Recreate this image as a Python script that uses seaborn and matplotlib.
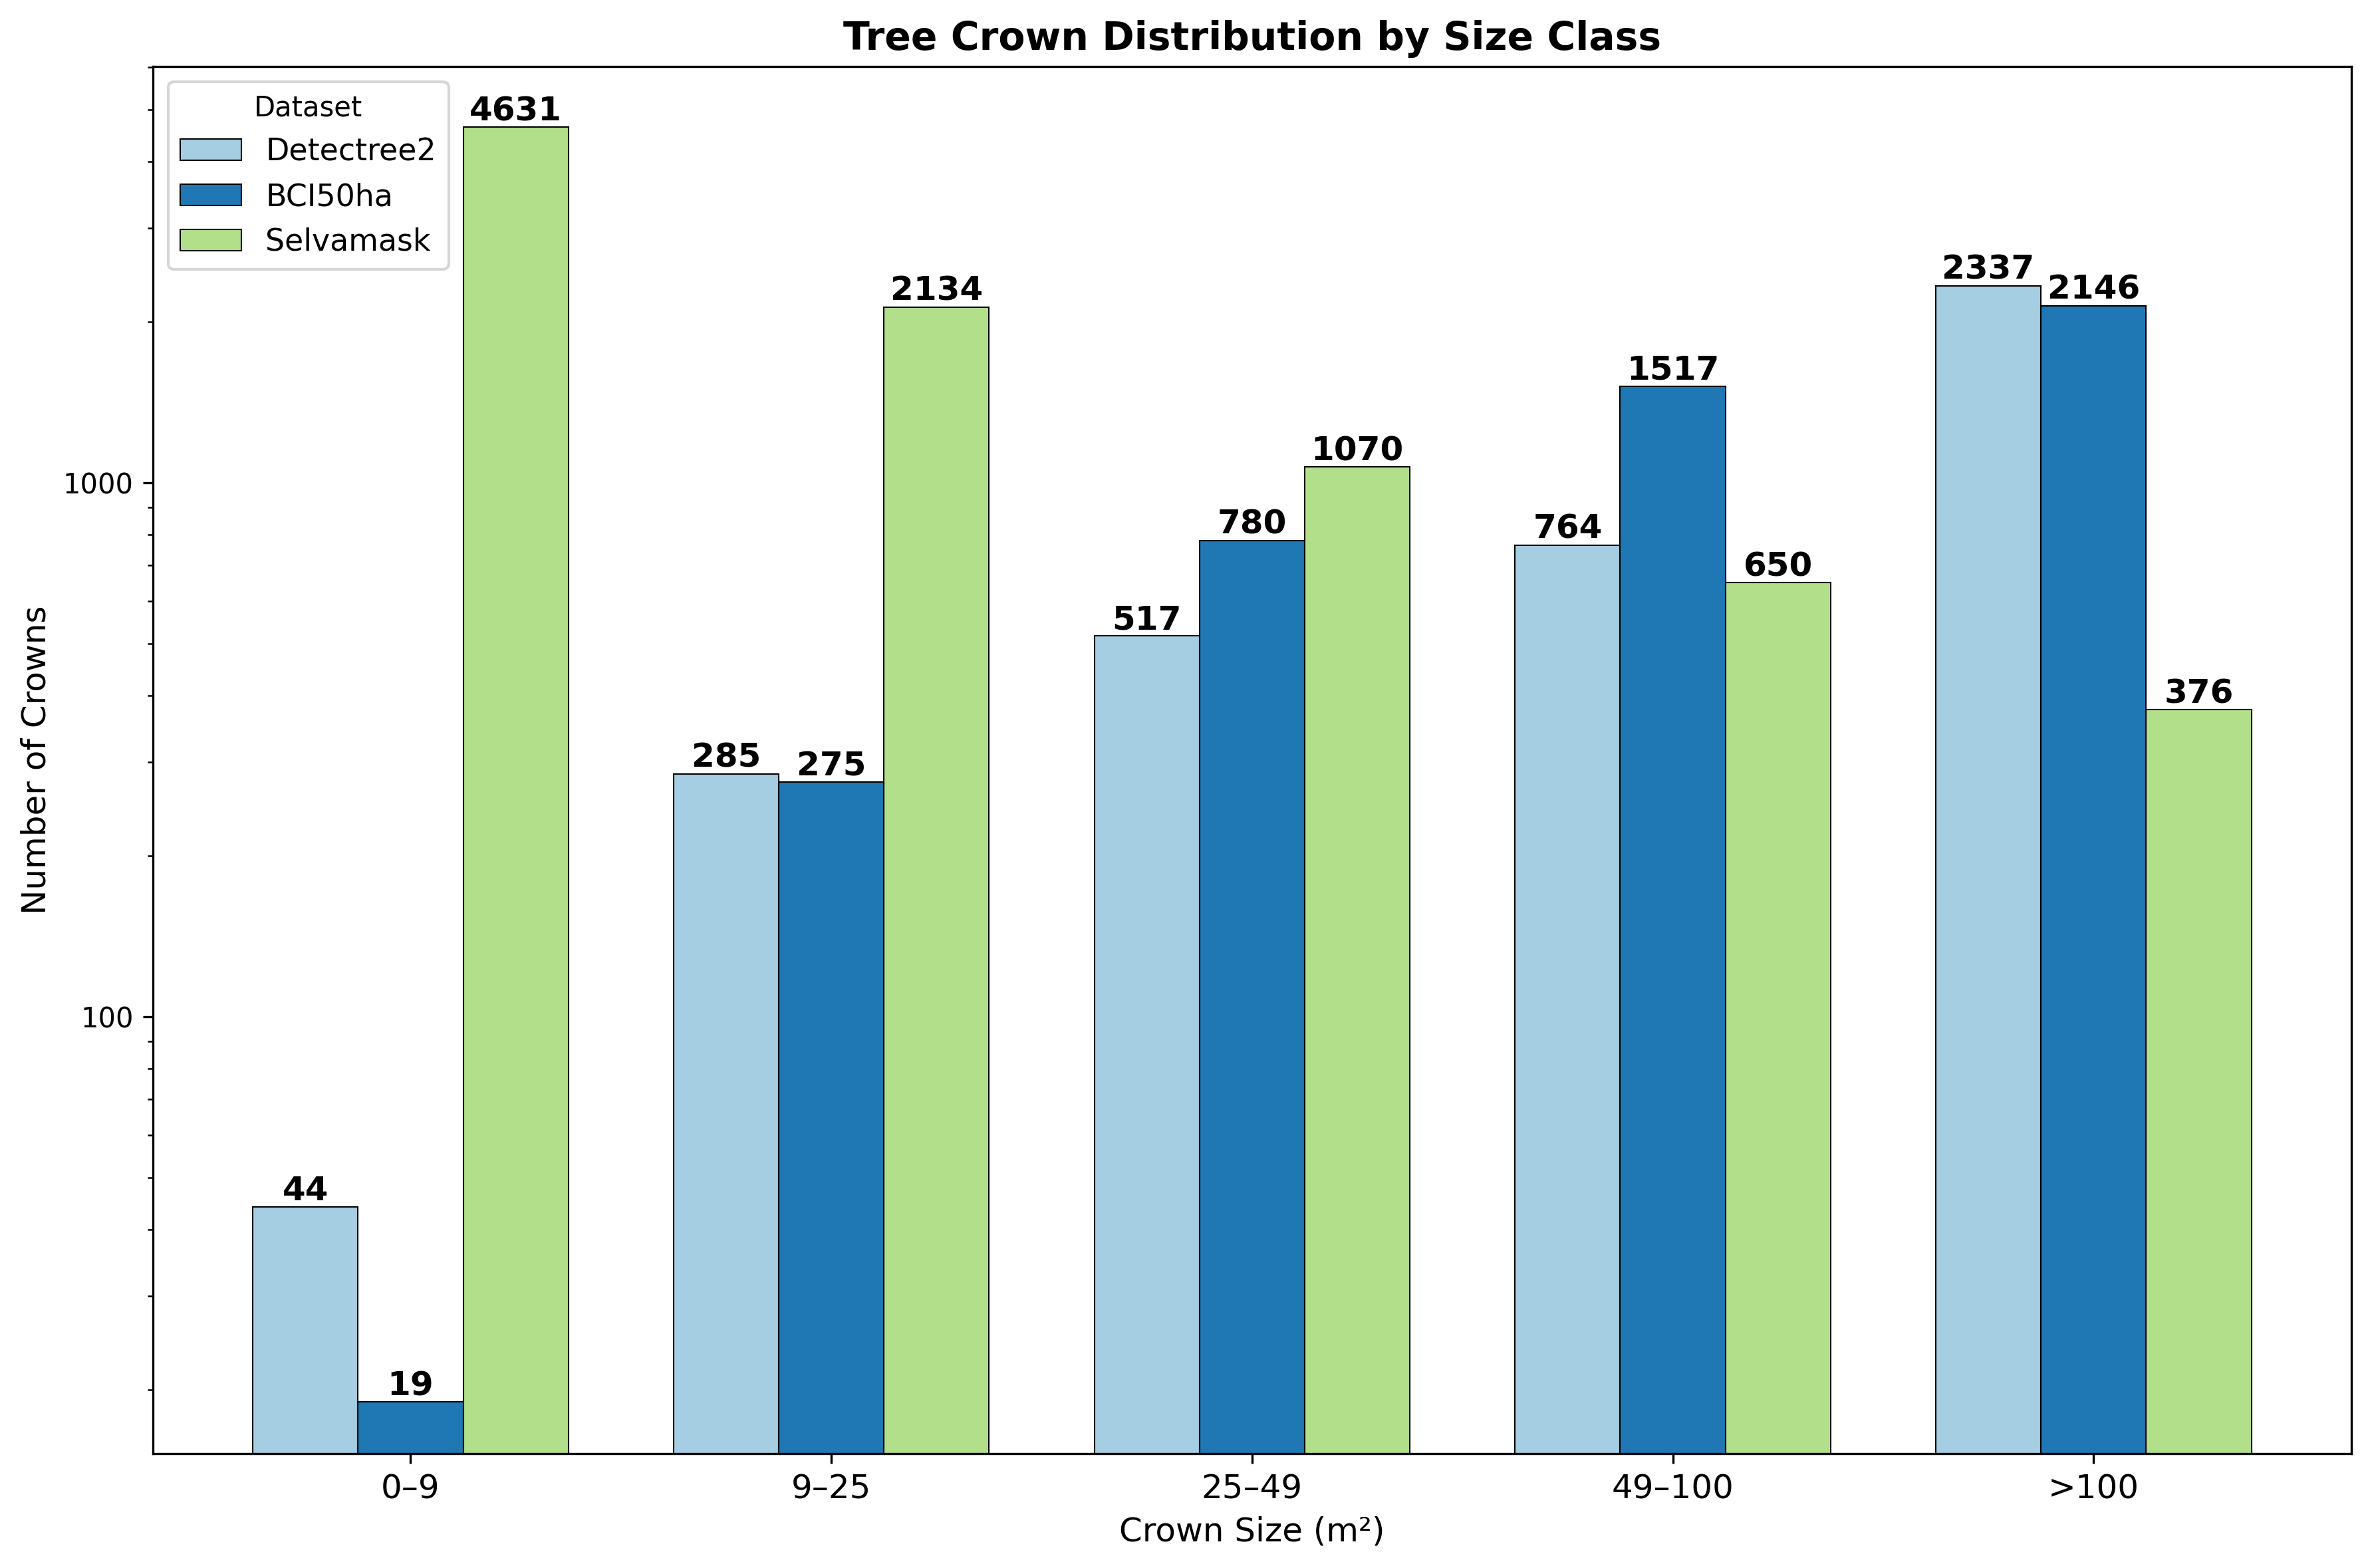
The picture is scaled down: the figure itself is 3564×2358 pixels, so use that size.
import numpy as np
import pandas as pd
import matplotlib
matplotlib.use("Agg")
import matplotlib.pyplot as plt
import matplotlib.ticker as mticker
import seaborn as sns

# crown size classes and per-dataset counts
size_classes = ["0–9", "9–25", "25–49", "49–100", ">100"]
datasets = ["Detectree2", "BCI50ha", "Selvamask"]
detectree2_counts = [44, 285, 517, 764, 2337]
bci50ha_counts = [19, 275, 780, 1517, 2146]
selvamask_counts = [4631, 2134, 1070, 650, 376]

df = pd.DataFrame({
    "size_class": size_classes * 3,
    "dataset": np.repeat(datasets, len(size_classes)),
    "count": detectree2_counts + bci50ha_counts + selvamask_counts,
})

fig, ax = plt.subplots(figsize=(11.88, 7.86), dpi=300)
fig.subplots_adjust(left=0.0645, right=0.9921, top=0.9576, bottom=0.0729)

palette = sns.color_palette("Paired", 3)
group_width = 0.75
sns.barplot(
    data=df, x="size_class", y="count", hue="dataset",
    order=size_classes, hue_order=datasets,
    palette=palette, saturation=1, width=group_width,
    edgecolor="black", linewidth=0.5,
    errorbar=None, ax=ax,
)

# matplotlib-style 5% margins around the bar groups
n = len(size_classes)
pad = 0.05 * (n - 1 + group_width)
ax.set_xlim(-group_width / 2 - pad, n - 1 + group_width / 2 + pad)

ax.set_yscale("log")
all_counts = df["count"]
ax.set_ylim(all_counts.min() * 0.8, all_counts.max() * 1.3)
ax.yaxis.set_major_formatter(mticker.ScalarFormatter())
ax.yaxis.set_minor_formatter(mticker.NullFormatter())
ax.tick_params(axis="y", labelsize=10)
ax.tick_params(axis="x", labelsize=12)

# value labels on top of each bar
for container in ax.containers:
    ax.bar_label(container, fmt="%d", fontsize=12, fontweight="bold", padding=0)

ax.set_title("Tree Crown Distribution by Size Class", fontsize=14, fontweight="bold")
ax.set_xlabel("Crown Size (m²)", fontsize=12)
ax.set_ylabel("Number of Crowns", fontsize=12)

leg = ax.legend(title="Dataset", loc="upper left", fontsize=11, title_fontsize=10)

plt.savefig("out.png", dpi=300)
